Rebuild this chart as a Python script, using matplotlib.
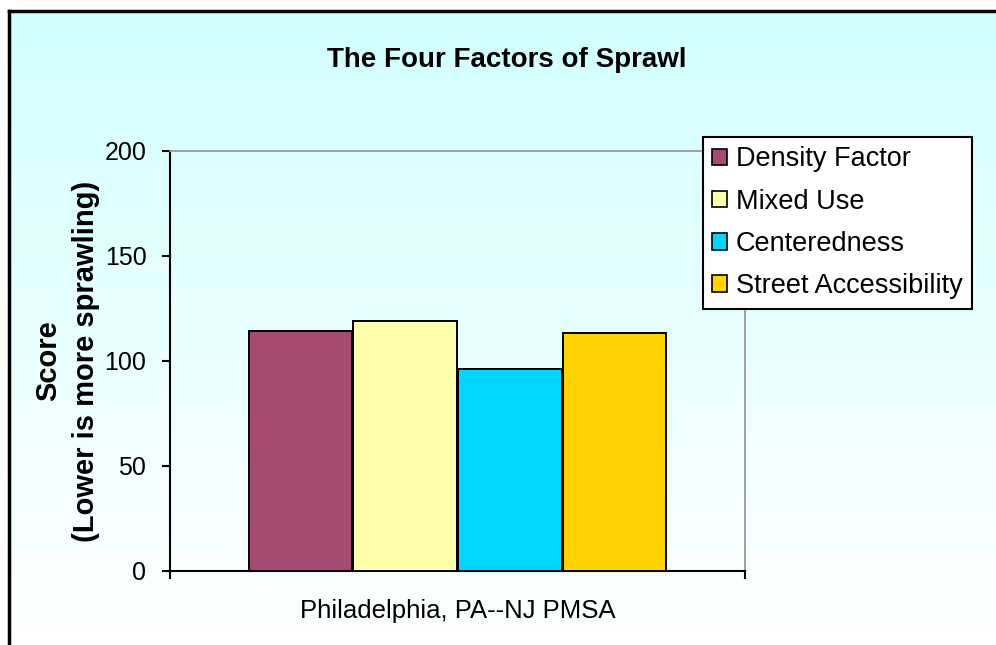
import numpy as np
import matplotlib.pyplot as plt
from matplotlib.patches import Patch

plt.rcParams['font.family'] = ['Liberation Sans', 'DejaVu Sans']

# data
category = "Philadelphia, PA--NJ PMSA"
factors = ["Density Factor", "Mixed Use", "Centeredness", "Street Accessibility"]
scores = [114.3, 118.9, 96.2, 113.2]
colors = ["#A64A73", "#FFFFAA", "#00D6FF", "#FFD200"]
yticks = [0, 50, 100, 150, 200]

W, H = 996, 645
fig = plt.figure(figsize=(W / 100, H / 100), dpi=100)

# background gradient (light cyan to white)
bg = fig.add_axes([8 / W, 0, 1 - 8 / W, 1 - 11 / H])
bg.set_axis_off()
grad = np.linspace(0, 1, 256).reshape(-1, 1)
top = np.array([0.82, 1.0, 1.0])
bottom = np.array([1.0, 1.0, 1.0])
img = top * (1 - grad[..., None]) + bottom * grad[..., None]
bg.imshow(img, aspect='auto', extent=[0, 1, 0, 1], interpolation='bilinear')
bg.set_xlim(0, 1)
bg.set_ylim(0, 1)

# black frame (top and left edges visible)
fig.add_artist(plt.Line2D([8.5 / W, 1], [1 - 11 / H, 1 - 11 / H], color='black', lw=2.5))
fig.add_artist(plt.Line2D([8.5 / W, 8.5 / W], [0, 1 - 11 / H], color='black', lw=2.5))

ax = fig.add_axes([170 / W, 1 - 571 / H, 575 / W, 420 / H])
ax.patch.set_alpha(0)

n = len(factors)
bw = 0.18
for i, (f, v, c) in enumerate(zip(factors, scores, colors)):
    ax.bar((i - (n - 1) / 2) * 0.182, v, width=bw, color=c, edgecolor='black',
           linewidth=1.4, label=f, zorder=3)

ax.set_xlim(-0.5, 0.5)
ax.set_ylim(0, 200)
ax.set_yticks(yticks)
ax.tick_params(axis='y', direction='out', length=6, width=1.5, labelsize=18, pad=11)
ax.set_xticks([-0.5, 0.5])
ax.set_xticklabels(['', ''])
ax.tick_params(axis='x', which='major', direction='out', length=6, width=1.5)
ax.set_xticks([0], minor=True)
ax.set_xticklabels([category], minor=True)
ax.tick_params(axis='x', which='minor', length=0, labelsize=18.5, pad=20)

for s in ['left', 'bottom']:
    ax.spines[s].set_linewidth(1.5)
    ax.spines[s].set_color('black')
for s in ['top', 'right']:
    ax.spines[s].set_linewidth(1.3)
    ax.spines[s].set_color('#999999')

ax.set_ylabel("Score\n(Lower is more sprawling)", fontsize=21, fontweight='bold', labelpad=3,
              linespacing=1.45)

fig.text(507 / W, 1 - 60 / H, "The Four Factors of Sprawl", ha='center', va='center',
         fontsize=20, fontweight='bold')

handles = [Patch(facecolor=c, edgecolor='black', linewidth=1.2) for c in colors]
leg = fig.legend(handles, factors, loc='upper left', bbox_to_anchor=(703 / W, 1 - 137 / H),
                 fontsize=19.5, frameon=True, fancybox=False, handlelength=0.55, handleheight=0.55,
                 handletextpad=0.3, labelspacing=0.6, borderpad=0.35, borderaxespad=0)
leg.get_frame().set_edgecolor('black')
leg.get_frame().set_linewidth(1.5)
leg.get_frame().set_facecolor('white')
leg.get_frame().set_alpha(1)

fig.savefig("out.png", dpi=100)
